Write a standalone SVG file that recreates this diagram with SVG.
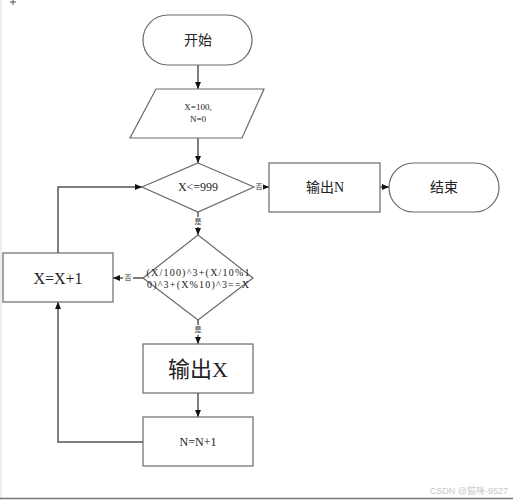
<svg xmlns="http://www.w3.org/2000/svg" width="513" height="500" viewBox="0 0 513 500">
<style>
.s{fill:#fff;stroke:#6a6a6a;stroke-width:1.2}
.c{fill:none;stroke:#555;stroke-width:1.5}
.t{font-family:"Liberation Serif","Noto Sans CJK SC",serif;fill:#222;text-anchor:middle;dominant-baseline:central}
.l{font-family:"Liberation Serif","Noto Sans CJK SC",serif;fill:#333;font-size:7px;text-anchor:middle;dominant-baseline:central}
</style>
<defs>
<marker id="a" markerWidth="8" markerHeight="8" refX="7" refY="4" orient="auto" markerUnits="userSpaceOnUse">
<path d="M0,1 L7,4 L0,7 Z" fill="#111"/>
</marker>
</defs>
<rect width="513" height="500" fill="#fff"/>
<line x1="1" y1="0" x2="1" y2="500" stroke="#ddd" stroke-width="1"/>
<line x1="0" y1="498.5" x2="513" y2="498.5" stroke="#777" stroke-width="1.5"/>
<path d="M13,0 V5 M10,2 H16" stroke="#555" stroke-width="1"/>

<g id="connectors">
<line class="c" x1="198" y1="65" x2="198" y2="89" marker-end="url(#a)"/>
<line class="c" x1="198" y1="138" x2="198" y2="163" marker-end="url(#a)"/>
<line class="c" x1="254" y1="187" x2="269" y2="187" marker-end="url(#a)"/>
<line class="c" x1="380" y1="187" x2="389" y2="187" marker-end="url(#a)"/>
<line class="c" x1="198" y1="212" x2="198" y2="235" marker-end="url(#a)"/>
<line class="c" x1="143" y1="278" x2="113" y2="278" marker-end="url(#a)"/>
<line class="c" x1="198" y1="319" x2="198" y2="344" marker-end="url(#a)"/>
<line class="c" x1="198" y1="393" x2="198" y2="417" marker-end="url(#a)"/>
<polyline class="c" points="58,253 58,187 142,187" marker-end="url(#a)"/>
<polyline class="c" points="143,442 58,442 58,302" marker-end="url(#a)"/>
<rect x="254" y="182" width="9" height="10" fill="#fff"/>
<text class="l" x="259" y="187">否</text>
<rect x="193" y="217" width="10" height="10" fill="#fff"/>
<text class="l" x="198" y="222">是</text>
<rect x="123" y="273" width="10" height="10" fill="#fff"/>
<text class="l" x="128" y="278">否</text>
<rect x="193" y="325" width="10" height="10" fill="#fff"/>
<text class="l" x="198" y="330">是</text>
</g>

<g id="start">
<rect class="s" x="143" y="15" width="109" height="50" rx="25"/>
<text class="t" x="198" y="40" font-size="14">开始</text>
</g>
<g id="init">
<polygon class="s" points="156,89 264,89 242,138 130,138"/>
<text class="t" x="198" y="107" font-size="9">X=100,</text>
<text class="t" x="198" y="119" font-size="9">N=0</text>
</g>
<g id="cond1">
<polygon class="s" points="198,163 254,187 198,212 142,187"/>
<text class="t" x="198" y="187" font-size="12">X&lt;=999</text>
</g>
<g id="outN">
<rect class="s" x="269" y="163" width="111" height="49"/>
<text class="t" x="325" y="187" font-size="14">输出N</text>
</g>
<g id="end">
<rect class="s" x="389" y="163" width="110" height="49" rx="24.5"/>
<text class="t" x="444" y="187" font-size="14">结束</text>
</g>
<g id="cond2">
<polygon class="s" points="198,235 253,278 198,320 143,278"/>
<text class="t" x="198" y="272" font-size="10" textLength="103" lengthAdjust="spacing">(X/100)^3+(X/10%1</text>
<text class="t" x="198" y="284" font-size="10" textLength="102" lengthAdjust="spacing">0)^3+(X%10)^3==X</text>
</g>
<g id="inc">
<rect class="s" x="3" y="253" width="110" height="49"/>
<text class="t" x="58" y="278" font-size="16">X=X+1</text>
</g>
<g id="outX">
<rect class="s" x="143" y="344" width="110" height="49"/>
<text class="t" x="198" y="369" font-size="22">输出X</text>
</g>
<g id="count">
<rect class="s" x="143" y="417" width="110" height="49"/>
<text class="t" x="198" y="442" font-size="12">N=N+1</text>
</g>
<text x="508" y="491" font-family="Liberation Sans,Noto Sans CJK SC,sans-serif" font-size="9" fill="#c8c8c8" text-anchor="end" dominant-baseline="central">CSDN @猫咪-9527</text>
</svg>
